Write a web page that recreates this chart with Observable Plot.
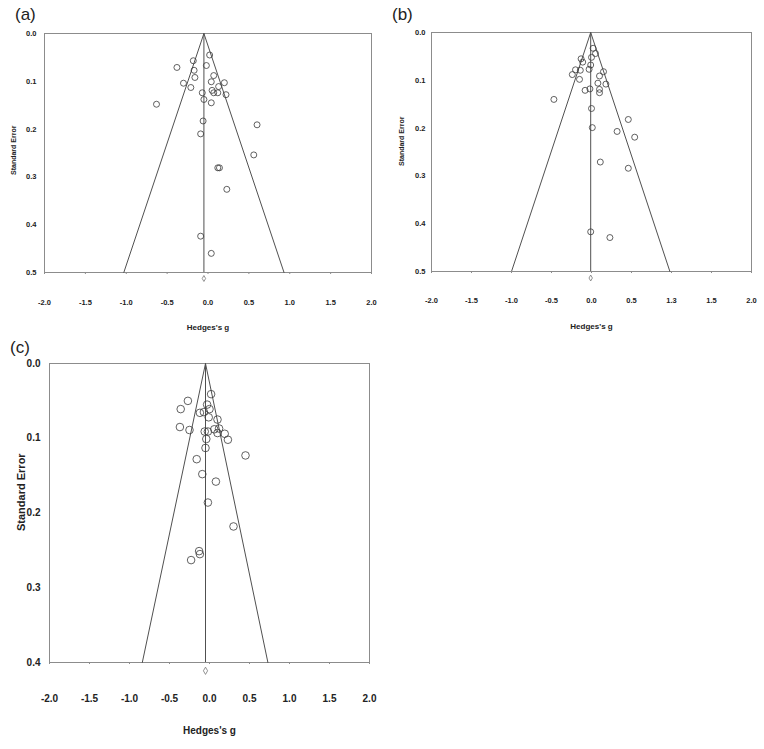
<!DOCTYPE html>
<html>
<head>
<meta charset="utf-8">
<script src="https://cdn.jsdelivr.net/npm/d3@7"></script>
<script src="https://cdn.jsdelivr.net/npm/@observablehq/plot@0.6"></script>
<style>
  html, body { margin: 0; padding: 0; background: #fff; }
  #wrap { position: relative; width: 764px; height: 749px; overflow: hidden; font-family: 'Liberation Sans', Arial, Helvetica, sans-serif; }
  .panel { position: absolute; }
  .tag { position: absolute; font-size: 17px; line-height: 1; color: #222; }
</style>
</head>
<body>
<div id="wrap">
  <div class="tag" style="left:15px;top:6px">(a)</div>
  <div class="tag" style="left:392px;top:6px">(b)</div>
  <div class="tag" style="left:10px;top:339px">(c)</div>
  <div class="panel" id="pa" style="left:0px;top:0px"></div>
  <div class="panel" id="pb" style="left:380px;top:0px"></div>
  <div class="panel" id="pc" style="left:0px;top:330px"></div>
</div>
<script>
// ---- Panel (a) studies: Hedges's g and standard error ----
const gA  = [0.02, -0.18, -0.38, -0.02, -0.17, -0.16, 0.07, -0.30, 0.04, 0.20, -0.21, 0.13, -0.07, 0.05, 0.07, 0.12, 0.22, -0.05, -0.63, 0.04, -0.06, 0.60, -0.09, 0.56, 0.12, 0.14, 0.23, -0.09, 0.04];
const seA = [0.045, 0.057, 0.071, 0.067, 0.077, 0.092, 0.088, 0.104, 0.101, 0.103, 0.113, 0.111, 0.124, 0.119, 0.124, 0.124, 0.128, 0.138, 0.148, 0.145, 0.183, 0.191, 0.210, 0.254, 0.281, 0.281, 0.326, 0.424, 0.460];
const pooledA = -0.05;
const funnelA_g  = [-1.03, -0.05, 0.93];
const funnelA_se = [0.5, 0, 0.5];

// ---- Panel (b) ----
const gB  = [0.02, 0.05, 0.00, -0.13, -0.11, -0.01, -0.20, -0.14, -0.03, 0.15, -0.24, 0.10, -0.15, 0.08, 0.18, -0.08, -0.02, 0.10, 0.10, -0.47, 0.00, 0.46, 0.01, 0.32, 0.54, 0.11, 0.46, -0.01, 0.23];
const seB = [0.033, 0.044, 0.052, 0.055, 0.062, 0.068, 0.078, 0.079, 0.077, 0.082, 0.088, 0.091, 0.098, 0.106, 0.108, 0.121, 0.118, 0.119, 0.126, 0.140, 0.159, 0.182, 0.199, 0.207, 0.219, 0.271, 0.284, 0.417, 0.429];
const pooledB = -0.01;
const funnelB_g  = [-1.0, -0.01, 0.98];
const funnelB_se = [0.5, 0, 0.5];

// ---- Panel (c) ----
const gC  = [0.02, -0.27, -0.36, -0.03, 0.00, -0.07, -0.12, -0.01, 0.10, -0.37, -0.25, -0.06, -0.02, 0.06, 0.12, 0.10, 0.19, -0.04, 0.23, -0.05, 0.45, -0.16, -0.09, 0.08, -0.02, 0.30, -0.13, -0.12, -0.23];
const seC = [0.041, 0.050, 0.061, 0.055, 0.061, 0.065, 0.066, 0.072, 0.075, 0.085, 0.089, 0.091, 0.091, 0.088, 0.087, 0.093, 0.094, 0.101, 0.102, 0.113, 0.123, 0.128, 0.148, 0.158, 0.186, 0.218, 0.251, 0.255, 0.263];
const pooledC = -0.05;
const funnelC_g  = [-0.84, -0.05, 0.73];
const funnelC_se = [0.4, 0, 0.4];

// ---- Tick labels ----
const xTicks   = [-2, -1.5, -1, -0.5, 0, 0.5, 1, 1.5, 2];
const xLabelsA = ["-2.0", "-1.5", "-1.0", "-0.5", "0.0", "0.5", "1.0", "1.5", "2.0"];
const xLabelsB = ["-2.0", "-1.5", "-1.0", "-0.5", "0.0", "0.5", "1.3", "1.5", "2.0"];
const xLabelsC = ["-2.0", "-1.5", "-1.0", "-0.5", "0.0", "0.5", "1.0", "1.5", "2.0"];
const yTicksAB  = [0, 0.1, 0.2, 0.3, 0.4, 0.5];
const yLabelsAB = ["0.0", "0.1", "0.2", "0.3", "0.4", "0.5"];
const yTicksC   = [0, 0.1, 0.2, 0.3, 0.4];
const yLabelsC  = ["0.0", "0.1", "0.2", "0.3", "0.4"];
const xTitle = "Hedges's g";
const yTitle = "Standard Error";

const FONT = "'Liberation Sans', Arial, Helvetica, sans-serif";

function panel(cfg) {
  const pts = cfg.g.map((g, i) => ({g, se: cfg.se[i]}));
  const funnel = cfg.fg.map((g, i) => ({g, se: cfg.fse[i]}));
  const seMax = d3.max(cfg.yTicks);
  return Plot.plot({
    width: cfg.width, height: cfg.height,
    marginLeft: cfg.ml, marginRight: cfg.mr, marginTop: cfg.mt, marginBottom: cfg.mb,
    x: {domain: [-2, 2]},
    y: {domain: [0, seMax], reverse: true},
    style: {fontFamily: FONT, fontWeight: "bold", color: "#222", background: "transparent", overflow: "visible"},
    marks: [
      Plot.frame({stroke: "#8c8c8c", strokeWidth: 1}),
      Plot.line(funnel, {x: "g", y: "se", stroke: "#505050", strokeWidth: 1}),
      Plot.ruleX([cfg.pooled], {y1: 0, y2: seMax, stroke: "#505050", strokeWidth: 1}),
      Plot.dot(pts, {x: "g", y: "se", r: cfg.r, stroke: "#3a3a3a", strokeWidth: 0.8, fill: "none"}),
      Plot.dot([cfg.pooled], {x: d => d, y: () => seMax, symbol: "diamond", r: cfg.dr, dy: cfg.ddy, stroke: "#777", strokeWidth: 0.8, fill: "none"}),
      Plot.axisX({ticks: xTicks, tickFormat: d => cfg.xLabels[xTicks.indexOf(d)], tickSize: 2, tickPadding: cfg.xpad, stroke: "#8c8c8c", fontSize: cfg.fs, fontWeight: "bold", label: null}),
      Plot.axisY({ticks: cfg.yTicks, tickFormat: d => cfg.yLabels[cfg.yTicks.indexOf(d)], tickSize: 0, tickPadding: cfg.ypad, fontSize: cfg.fs, fontWeight: "bold", label: null}),
      Plot.text([xTitle], {text: d => d, frameAnchor: "bottom", dy: cfg.xtdy, fontSize: cfg.xtfs, fontWeight: "bold", fill: "#222"}),
      Plot.text([yTitle], {text: d => d, frameAnchor: "left", rotate: -90, dx: cfg.ytdx, dy: cfg.ytdy, fontSize: cfg.ytfs, fontWeight: "bold", fill: "#222"})
    ]
  });
}

document.getElementById("pa").append(panel({
  g: gA, se: seA, fg: funnelA_g, fse: funnelA_se, pooled: pooledA,
  xLabels: xLabelsA, yTicks: yTicksAB, yLabels: yLabelsAB,
  width: 380, height: 340, ml: 44, mr: 9, mt: 33, mb: 68,
  r: 3, dr: 1.8, ddy: 6, fs: 7.5, xpad: 25, ypad: 8,
  xtdy: 57, xtfs: 8, ytdx: -31, ytdy: 22, ytfs: 7
}));

document.getElementById("pb").append(panel({
  g: gB, se: seB, fg: funnelB_g, fse: funnelB_se, pooled: pooledB,
  xLabels: xLabelsB, yTicks: yTicksAB, yLabels: yLabelsAB,
  width: 384, height: 340, ml: 51, mr: 13, mt: 32, mb: 69,
  r: 3, dr: 1.8, ddy: 6.5, fs: 7.5, xpad: 24, ypad: 6,
  xtdy: 57, xtfs: 8, ytdx: -30, ytdy: 14, ytfs: 7
}));

document.getElementById("pc").append(panel({
  g: gC, se: seC, fg: funnelC_g, fse: funnelC_se, pooled: pooledC,
  xLabels: xLabelsC, yTicks: yTicksC, yLabels: yLabelsC,
  width: 400, height: 419, ml: 49, mr: 31, mt: 33, mb: 87,
  r: 3.8, dr: 2.2, ddy: 8.3, fs: 10, xpad: 30, ypad: 9,
  xtdy: 71.5, xtfs: 10, ytdx: -28, ytdy: 18, ytfs: 11
}));
</script>
</body>
</html>
